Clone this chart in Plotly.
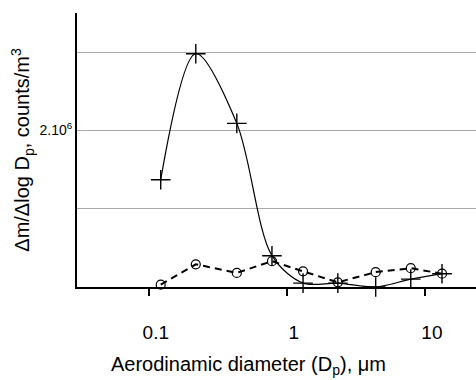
import plotly.graph_objects as go

# Data
diam = [0.122, 0.219, 0.434, 0.78, 1.31, 2.34, 4.4, 7.9, 13.3]
series_cross = [1.37e6, 2.98e6, 2.09e6, 0.40e6, 0.05e6, 0.05e6, 0.0, 0.10e6, 0.17e6]
series_circle = [0.03e6, 0.29e6, 0.18e6, 0.33e6, 0.20e6, 0.06e6, 0.19e6, 0.24e6, 0.17e6]

x_tickvals = [0.1, 1, 10]
x_ticktext = ["0.1", "1", "10"]
y_tickvals = [1e6, 2e6, 3e6]
y_ticktext = ["", "2.10<sup>6</sup>", ""]

FONT = "Arial, Liberation Sans, sans-serif"

fig = go.Figure()
fig.add_trace(go.Scatter(
    x=diam, y=series_circle, mode="lines+markers",
    line=dict(color="black", width=2, dash="7px,5px", shape="linear"),
    marker=dict(symbol="circle-open", size=9, color="black", line=dict(width=1.2)),
    cliponaxis=False, showlegend=False))
fig.add_trace(go.Scatter(
    x=diam, y=series_cross, mode="lines+markers",
    line=dict(color="black", width=1.2, shape="spline", smoothing=0.9),
    marker=dict(symbol="cross-thin", size=14, color="black", line=dict(width=1.4, color="black")),
    cliponaxis=False, showlegend=False))

fig.update_layout(
    width=476, height=380,
    margin=dict(l=77, r=0, t=13, b=93),
    paper_bgcolor="white", plot_bgcolor="white",
    font=dict(family=FONT, color="black"),
    xaxis=dict(
        type="log", range=[-1.52, 1.37],
        tickvals=x_tickvals, ticktext=x_ticktext,
        ticks="outside", ticklen=7, tickwidth=1.5, tickcolor="black",
        ticklabelstandoff=20, ticklabelshift=7,
        tickfont=dict(size=19, family=FONT),
        showline=True, linecolor="black", linewidth=2,
        showgrid=False, zeroline=False,
    ),
    yaxis=dict(
        range=[0, 3.5e6],
        tickvals=y_tickvals, ticktext=y_ticktext,
        ticks="", tickfont=dict(size=14, family=FONT),
        showline=True, linecolor="black", linewidth=2,
        showgrid=True, gridcolor="#aaaaaa", gridwidth=1,
        zeroline=False,
        title=dict(text="Δm/Δlog D<sub>p</sub>, counts/m<sup>3</sup>",
                   font=dict(size=20, family=FONT), standoff=4),
    ),
    annotations=[dict(
        text="Aerodinamic diameter (D<sub>p</sub>), μm",
        xref="paper", yref="paper", x=0.431, y=-0.285,
        xanchor="center", yanchor="middle", showarrow=False,
        font=dict(size=20, family=FONT, color="black"))],
)

fig.write_html("out.html")
